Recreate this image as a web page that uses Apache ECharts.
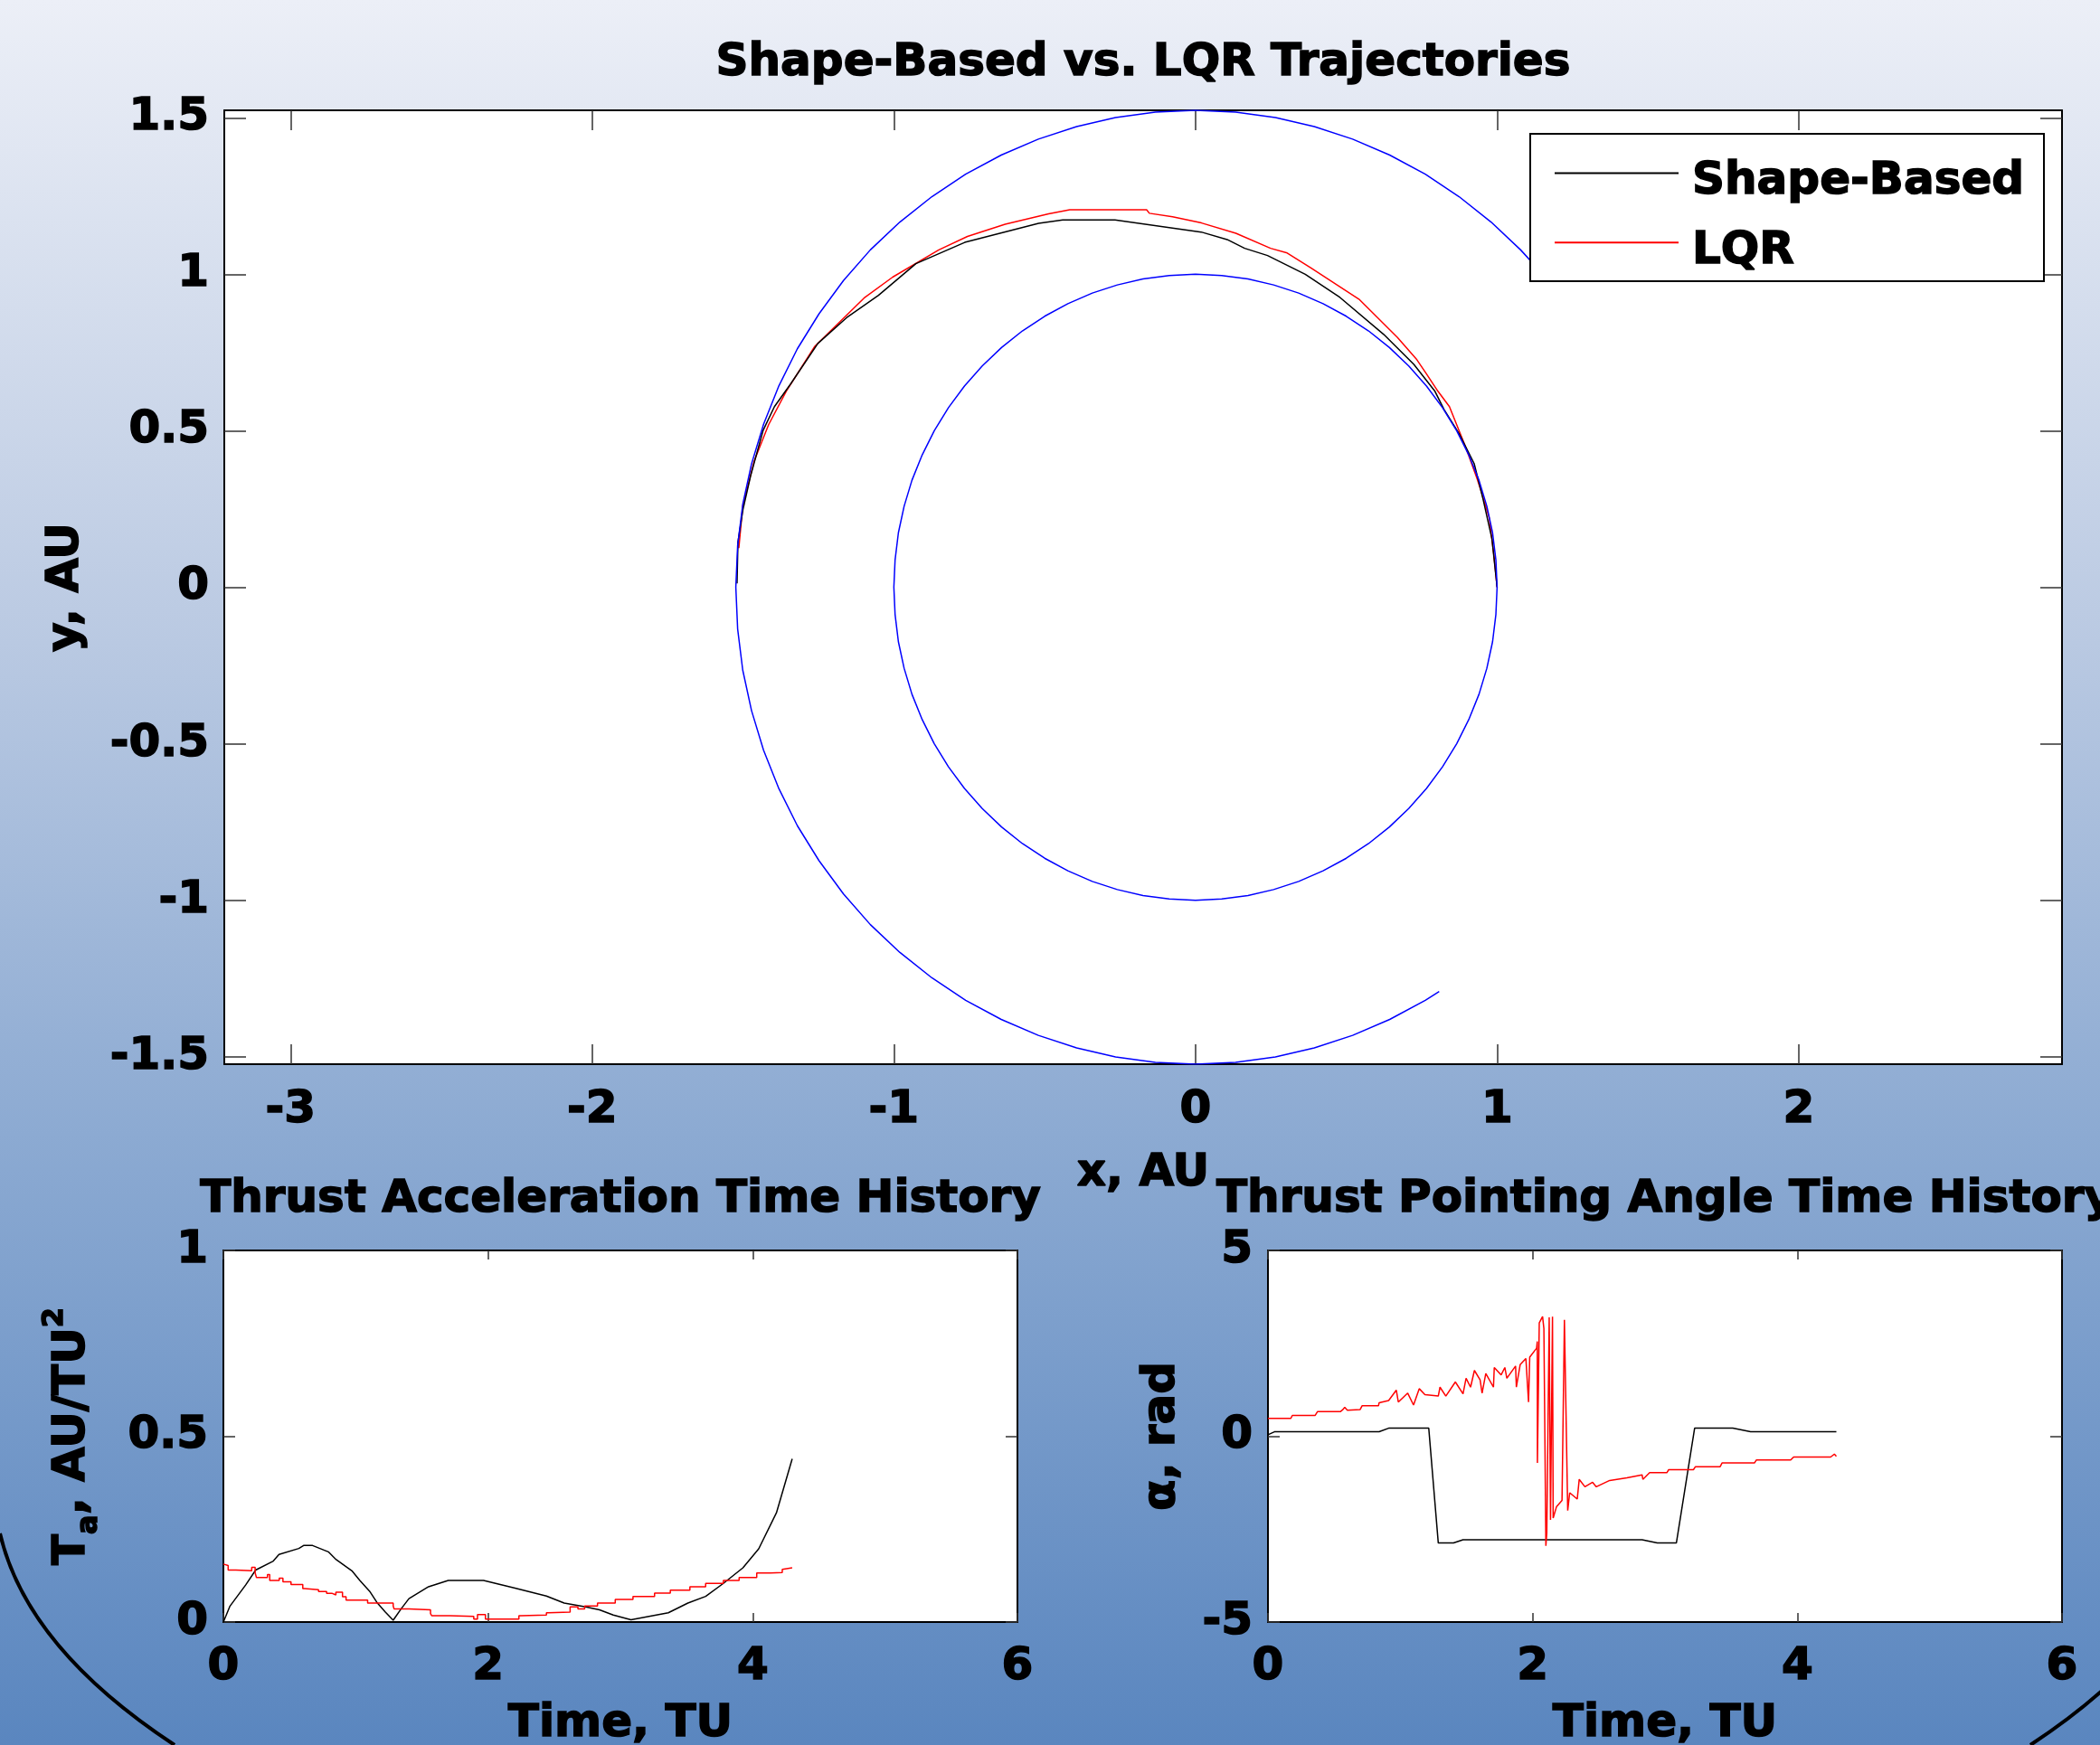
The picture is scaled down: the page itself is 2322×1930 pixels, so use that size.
<!DOCTYPE html>
<html>
<head>
<meta charset="utf-8">
<title>Shape-Based vs. LQR Trajectories</title>
<script src="https://cdn.jsdelivr.net/npm/echarts@6/dist/echarts.min.js"></script>
<style>
html, body { margin: 0; padding: 0; }
#main { width: 2322px; height: 1930px; }
</style>
</head>
<body>
<div id="main"></div>
<script>
// orbits (AU)
var earthOrbit = [[1,0],[0.996,0.087],[0.985,0.174],[0.966,0.259],[0.94,0.342],[0.906,0.423],[0.866,0.5],[0.819,0.574],[0.766,0.643],
	[0.707,0.707],[0.643,0.766],[0.574,0.819],[0.5,0.866],[0.423,0.906],[0.342,0.94],[0.259,0.966],[0.174,0.985],[0.087,0.996],[0,1],
	[-0.087,0.996],[-0.174,0.985],[-0.259,0.966],[-0.342,0.94],[-0.423,0.906],[-0.5,0.866],[-0.574,0.819],[-0.643,0.766],[-0.707,0.707],
	[-0.766,0.643],[-0.819,0.574],[-0.866,0.5],[-0.906,0.423],[-0.94,0.342],[-0.966,0.259],[-0.985,0.174],[-0.996,0.087],[-1,0],
	[-0.996,-0.087],[-0.985,-0.174],[-0.966,-0.259],[-0.94,-0.342],[-0.906,-0.423],[-0.866,-0.5],[-0.819,-0.574],[-0.766,-0.643],
	[-0.707,-0.707],[-0.643,-0.766],[-0.574,-0.819],[-0.5,-0.866],[-0.423,-0.906],[-0.342,-0.94],[-0.259,-0.966],[-0.174,-0.985],
	[-0.087,-0.996],[0,-1],[0.087,-0.996],[0.174,-0.985],[0.259,-0.966],[0.342,-0.94],[0.423,-0.906],[0.5,-0.866],[0.574,-0.819],
	[0.643,-0.766],[0.707,-0.707],[0.766,-0.643],[0.819,-0.574],[0.866,-0.5],[0.906,-0.423],[0.94,-0.342],[0.966,-0.259],
	[0.985,-0.174],[0.996,-0.087],[1,0]];
var marsOrbit = [[1.133,1.02],[1.078,1.078],[0.98,1.167],[0.874,1.248],[0.762,1.32],[0.644,1.381],[0.521,1.432],[0.394,1.472],
	[0.265,1.501],[0.133,1.518],[0,1.524],[-0.133,1.518],[-0.265,1.501],[-0.394,1.472],[-0.521,1.432],[-0.644,1.381],[-0.762,1.32],
	[-0.874,1.248],[-0.98,1.167],[-1.078,1.078],[-1.167,0.98],[-1.248,0.874],[-1.32,0.762],[-1.381,0.644],[-1.432,0.521],
	[-1.472,0.394],[-1.501,0.265],[-1.518,0.133],[-1.524,0],[-1.518,-0.133],[-1.501,-0.265],[-1.472,-0.394],[-1.432,-0.521],
	[-1.381,-0.644],[-1.32,-0.762],[-1.248,-0.874],[-1.167,-0.98],[-1.078,-1.078],[-0.98,-1.167],[-0.874,-1.248],[-0.762,-1.32],
	[-0.644,-1.381],[-0.521,-1.432],[-0.394,-1.472],[-0.265,-1.501],[-0.133,-1.518],[0,-1.524],[0.133,-1.518],[0.265,-1.501],
	[0.394,-1.472],[0.521,-1.432],[0.644,-1.381],[0.762,-1.32],[0.808,-1.292]];
// transfer trajectories
var shapeTraj = [[1,0],[0.983,0.154],[0.954,0.279],[0.924,0.395],[0.874,0.491],[0.824,0.568],[0.794,0.626],[0.724,0.712],
	[0.624,0.808],[0.479,0.926],[0.364,1.0],[0.239,1.06],[0.163,1.083],[0.105,1.111],[0.019,1.135],[-0.267,1.174],[-0.44,1.174],
	[-0.52,1.163],[-0.765,1.102],[-0.927,1.034],[-1.051,0.933],[-1.157,0.861],[-1.252,0.779],[-1.342,0.65],[-1.396,0.577],
	[-1.434,0.5],[-1.475,0.356],[-1.5,0.25],[-1.517,0.144],[-1.52,0.012]];
var lqrTraj = [[1,0],[0.989,0.106],[0.974,0.221],[0.947,0.308],[0.934,0.346],[0.894,0.452],[0.842,0.577],[0.804,0.626],
	[0.765,0.683],[0.734,0.727],[0.669,0.799],[0.544,0.919],[0.383,1.02],[0.304,1.068],[0.249,1.083],[0.134,1.131],[0.02,1.164],
	[-0.076,1.184],[-0.153,1.195],[-0.162,1.206],[-0.417,1.206],[-0.487,1.193],[-0.631,1.16],[-0.756,1.121],[-0.851,1.078],
	[-1.004,0.991],[-1.099,0.924],[-1.262,0.77],[-1.357,0.626],[-1.415,0.52],[-1.463,0.404],[-1.501,0.26],[-1.514,0.125]];
// thrust acceleration (time TU, AU/TU^2)
var shapeAccel = [[0,0],[0.05,0.043],[0.169,0.1],[0.244,0.14],[0.377,0.164],[0.42,0.182],[0.57,0.198],[0.606,0.206],[0.674,0.206],
	[0.793,0.189],[0.852,0.168],[0.971,0.138],[1.031,0.112],[1.105,0.083],[1.164,0.051],[1.224,0.027],[1.283,0.005],[1.342,0.035],
	[1.402,0.063],[1.55,0.095],[1.699,0.112],[1.966,0.112],[2.204,0.091],[2.441,0.07],[2.575,0.051],[2.738,0.041],[2.842,0.033],
	[2.946,0.019],[3.08,0.006],[3.362,0.025],[3.51,0.051],[3.644,0.069],[3.778,0.104],[3.926,0.146],[4.045,0.197],[4.179,0.294],[4.298,0.439]];
var lqrAccel = [[0,0.156],[0.036,0.152],[0.095,0.14],[0.214,0.138],[0.24,0.147],[0.25,0.132],[0.333,0.12],[0.35,0.128],[0.422,0.112],
	[0.45,0.118],[0.511,0.108],[0.6,0.101],[0.615,0.09],[0.719,0.087],[0.78,0.082],[0.823,0.077],[0.85,0.073],[0.9,0.08],[0.927,0.068],
	[0.986,0.059],[1.09,0.059],[1.105,0.051],[1.283,0.051],[1.29,0.043],[1.402,0.035],[1.565,0.033],[1.574,0.023],[1.714,0.017],
	[1.892,0.015],[1.92,0.008],[1.98,0.02],[1.99,0.008],[2.233,0.008],[2.248,0.017],[2.441,0.019],[2.456,0.025],[2.62,0.027],
	[2.679,0.041],[2.73,0.035],[2.827,0.043],[2.961,0.051],[3.095,0.061],[3.258,0.069],[3.377,0.078],[3.525,0.086],[3.644,0.095],
	[3.778,0.104],[3.897,0.112],[4.03,0.12],[4.134,0.132],[4.223,0.133],[4.23,0.142],[4.298,0.146]];
// thrust pointing angle (time TU, rad)
var shapeAngle = [[0,0.04],[0.049,0.12],[0.84,0.12],[0.912,0.217],[1.215,0.217],[1.287,-2.873],[1.402,-2.873],[1.474,-2.785],
	[2.827,-2.785],[2.942,-2.873],[3.086,-2.873],[3.224,0.217],[3.512,0.217],[3.647,0.12],[4.295,0.12]];
var lqrAngle = [[0,0.48],[0.173,0.48],[0.184,0.56],[0.357,0.56],[0.374,0.66],[0.547,0.66],[0.567,0.72],[0.58,0.78],[0.6,0.7],
	[0.697,0.72],[0.711,0.82],[0.835,0.82],[0.84,0.9],[0.912,0.96],[0.97,1.24],[0.985,0.92],[1.056,1.16],[1.1,0.84],[1.143,1.28],
	[1.186,1.12],[1.287,1.08],[1.3,1.32],[1.344,1.08],[1.416,1.46],[1.474,1.14],[1.497,1.56],[1.531,1.32],[1.56,1.77],[1.603,1.52],
	[1.618,1.16],[1.646,1.69],[1.704,1.32],[1.71,1.85],[1.762,1.65],[1.79,1.85],[1.805,1.56],[1.871,1.89],[1.877,1.32],[1.906,1.93],
	[1.949,2.09],[1.969,0.92],[1.978,2.13],[2.03,2.37],[2.035,2.55],[2.036,-0.72],[2.05,3.05],[2.075,3.22],[2.085,2.9],[2.1,-2.95],
	[2.107,-2.6],[2.125,3.2],[2.135,-2.25],[2.15,3.22],[2.155,-2.2],[2.18,-1.9],[2.222,-1.73],[2.24,3.13],[2.265,-2.0],[2.28,-1.52],
	[2.337,-1.69],[2.352,-1.16],[2.395,-1.36],[2.453,-1.24],[2.481,-1.36],[2.582,-1.19],[2.712,-1.12],[2.827,-1.04],[2.833,-1.16],
	[2.884,-0.98],[3.014,-0.98],[3.028,-0.9],[3.215,-0.9],[3.23,-0.82],[3.417,-0.82],[3.431,-0.72],[3.676,-0.72],[3.69,-0.64],
	[3.95,-0.64],[3.972,-0.56],[4.252,-0.56],[4.28,-0.48],[4.295,-0.54]];
// ticks
var trajXTicks = [-3, -2, -1, 0, 1, 2];
var trajYTicks = [-1.5, -1, -0.5, 0, 0.5, 1, 1.5];
var timeTicks = [0, 2, 4, 6];
var accelTicks = [0, 0.5, 1];
var angleTicks = [-5, 0, 5];

var FONT = 'DejaVu Sans';
var boldText = { color: '#000', fontFamily: FONT, fontWeight: 'bold', fontSize: 50, textBorderColor: '#000', textBorderWidth: 1.5 };

function frameAxis(gridIndex, position, min, max, ticks, tickLen, labelMargin, name, nameGap, nameStyle) {
	var hasLabel = labelMargin !== null;
	var vertical = position === 'left' || position === 'right';
	var label = { show: false };
	if (hasLabel) {
		label = Object.assign({ show: true, margin: labelMargin, customValues: ticks }, boldText);
		if (vertical) {
			label.padding = [8, 0, 0, 0];
		}
	}
	return {
		type: 'value',
		gridIndex: gridIndex,
		position: position,
		min: min,
		max: max,
		axisLine: { show: true, onZero: false, lineStyle: { color: '#000', width: 2 } },
		axisTick: { show: true, inside: true, length: tickLen, customValues: ticks, lineStyle: { color: '#333', width: 1.5 } },
		axisLabel: label,
		splitLine: { show: false },
		name: name || '',
		nameLocation: 'middle',
		nameGap: nameGap || 0,
		nameTextStyle: nameStyle || Object.assign({ lineHeight: 50 }, boldText)
	};
}

function lineSeries(name, xi, data, color, step) {
	return {
		name: name,
		type: 'line',
		xAxisIndex: xi,
		yAxisIndex: xi,
		data: data,
		symbol: 'none',
		showSymbol: false,
		step: step || false,
		lineStyle: { color: color, width: 1.5 },
		itemStyle: { color: color },
		emphasis: { disabled: true },
		silent: true
	};
}

var richBase = { fontFamily: FONT, fontWeight: 'bold', color: '#000', textBorderColor: '#000', textBorderWidth: 1.5 };
var taNameStyle = Object.assign({}, boldText, {
	lineHeight: 70,
	rich: {
		b: Object.assign({ fontSize: 50, lineHeight: 70 }, richBase),
		s: Object.assign({ fontSize: 32, lineHeight: 32, verticalAlign: 'bottom', textBorderWidth: 1 }, richBase),
		p: Object.assign({ fontSize: 32, lineHeight: 32, verticalAlign: 'top', textBorderWidth: 1 }, richBase)
	}
});

var chart = echarts.init(document.getElementById('main'));
var option = {
	animation: false,
	backgroundColor: new echarts.graphic.LinearGradient(0, 0, 0, 1, [
		{ offset: 0, color: '#eceff7' },
		{ offset: 0.35, color: '#bccbe3' },
		{ offset: 0.65, color: '#8caad2' },
		{ offset: 1, color: '#5a86bf' }
	]),
	title: [
		{ text: 'Shape-Based vs. LQR Trajectories', left: 1264, top: 45, padding: 0, textAlign: 'center', textStyle: boldText },
		{ text: 'Thrust Acceleration Time History', left: 686, top: 1302, padding: 0, textAlign: 'center', textStyle: boldText },
		{ text: 'Thrust Pointing Angle Time History', left: 1841, top: 1302, padding: 0, textAlign: 'center', textStyle: boldText }
	],
	legend: {
		data: ['Shape-Based', 'LQR'],
		orient: 'vertical',
		left: 1719,
		top: 157,
		padding: 0,
		itemGap: 7,
		itemWidth: 137,
		itemHeight: 2,
		icon: 'rect',
		selectedMode: false,
		z: 20,
		formatter: function(name) {
			return '{n|' + name + '}';
		},
		textStyle: {
			rich: {
				n: Object.assign({ fontSize: 50, lineHeight: 50, padding: [19, 0, 0, 10] }, richBase)
			}
		}
	},
	grid: [
		{ left: 248, top: 122, width: 2032, height: 1055, outerBoundsMode: 'none', show: true, backgroundColor: '#fff', borderWidth: 0 },
		{ left: 247, top: 1383, width: 878, height: 411, outerBoundsMode: 'none', show: true, backgroundColor: '#fff', borderWidth: 0 },
		{ left: 1402, top: 1383, width: 878, height: 411, outerBoundsMode: 'none', show: true, backgroundColor: '#fff', borderWidth: 0 }
	],
	xAxis: [
		frameAxis(0, 'bottom', -3.22, 2.873, trajXTicks, 22, 26, 'x, AU', 96),
		frameAxis(0, 'top', -3.22, 2.873, trajXTicks, 22, null),
		frameAxis(1, 'bottom', 0, 6, timeTicks, 10, 25, 'Time, TU', 88),
		frameAxis(1, 'top', 0, 6, timeTicks, 10, null),
		frameAxis(2, 'bottom', 0, 6, timeTicks, 10, 25, 'Time, TU', 88),
		frameAxis(2, 'top', 0, 6, timeTicks, 10, null)
	],
	yAxis: [
		frameAxis(0, 'left', -1.524, 1.524, trajYTicks, 24, 17, 'y, AU', 150),
		frameAxis(0, 'right', -1.524, 1.524, trajYTicks, 24, null),
		frameAxis(1, 'left', 0, 1, accelTicks, 13, 17, '{b|T}{s|a}{b|, AU/TU}{p|2}', 132, taNameStyle),
		frameAxis(1, 'right', 0, 1, accelTicks, 13, null),
		frameAxis(2, 'left', -5, 5, angleTicks, 13, 17, '\u03b1, rad', 92),
		frameAxis(2, 'right', -5, 5, angleTicks, 13, null)
	],
	series: [
		lineSeries('LQR', 0, lqrTraj, '#ff0000'),
		lineSeries('Shape-Based', 0, shapeTraj, '#000000'),
		lineSeries('Earth', 0, earthOrbit, '#0000ff'),
		lineSeries('Mars', 0, marsOrbit, '#0000ff'),
		lineSeries('Shape-Based', 2, shapeAccel, '#000000'),
		lineSeries('LQR', 2, lqrAccel, '#ff0000', 'start'),
		lineSeries('Shape-Based', 4, shapeAngle, '#000000'),
		lineSeries('LQR', 4, lqrAngle, '#ff0000')
	],
	graphic: [
		{ type: 'rect', z: 10, silent: true, shape: { x: 1692, y: 148, width: 568, height: 163 },
			style: { fill: '#fff', stroke: '#000', lineWidth: 2 } },
		{ type: 'bezierCurve', z: 1, silent: true,
			shape: { x1: 0, y1: 1696, cpx1: 19.5, cpy1: 1780, cpx2: 85, cpy2: 1859, x2: 193, y2: 1930 },
			style: { fill: null, stroke: '#000', lineWidth: 4 } },
		{ type: 'bezierCurve', z: 1, silent: true,
			shape: { x1: 2438, y1: 1696, cpx1: 2418.5, cpy1: 1780, cpx2: 2353, cpy2: 1859, x2: 2245, y2: 1930 },
			style: { fill: null, stroke: '#000', lineWidth: 4 } }
	]
};
chart.setOption(option);
</script>
</body>
</html>
